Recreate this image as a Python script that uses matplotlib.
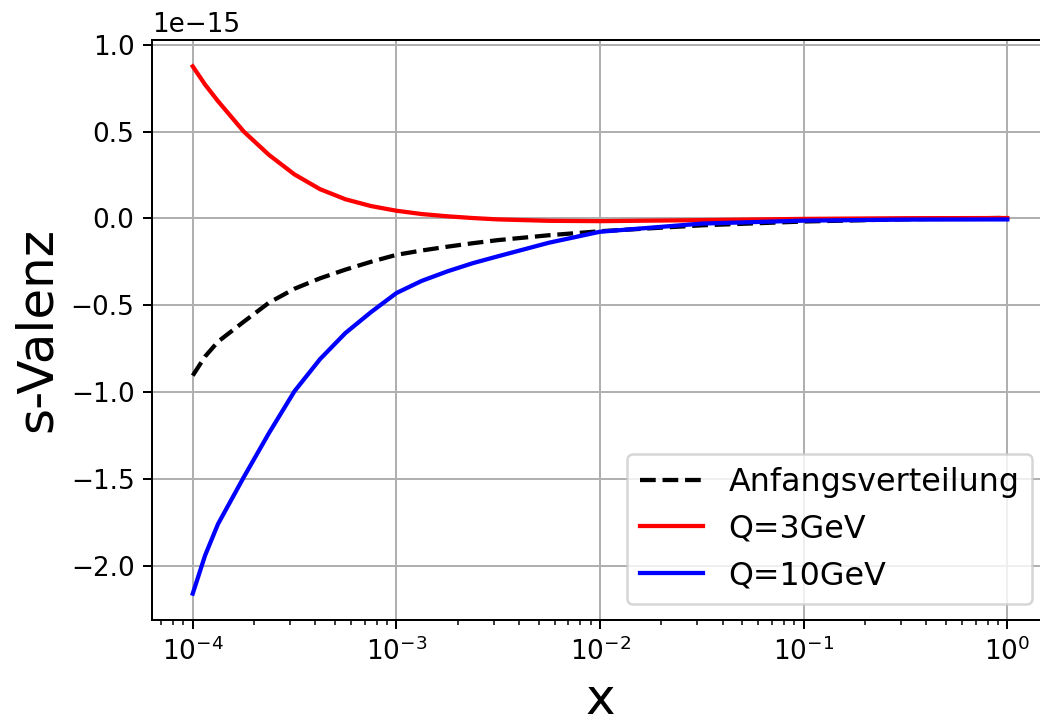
import numpy as np
import matplotlib
matplotlib.use('Agg')
import matplotlib.pyplot as plt

# x-Werte (log), Kurven in Einheiten von 1e-15
x = [1e-4, 1.15e-4, 1.33e-4, 1.78e-4, 2.37e-4, 3.16e-4, 4.22e-4, 5.62e-4, 7.5e-4, 1e-3,
     1.33e-3, 1.78e-3, 2.37e-3, 3.16e-3, 5.62e-3, 1e-2, 3.16e-2, 1e-1, 3.16e-1, 1.0]
anfang = [-0.905, -0.795, -0.71, -0.595, -0.485, -0.405, -0.345, -0.295, -0.25, -0.21,
          -0.185, -0.163, -0.143, -0.125, -0.097, -0.074, -0.040, -0.018, -0.005, 0.003]
q3 = [0.875, 0.77, 0.675, 0.50, 0.365, 0.253, 0.168, 0.11, 0.071, 0.044,
      0.025, 0.012, 0.002, -0.006, -0.014, -0.016, -0.010, -0.003, 0.001, 0.002]
q10 = [-2.16, -1.94, -1.76, -1.49, -1.235, -0.995, -0.81, -0.66, -0.54, -0.43,
       -0.36, -0.305, -0.258, -0.218, -0.14, -0.077, -0.030, -0.013, -0.007, -0.006]

scale = 1e-15

plt.rcParams['xtick.labelsize'] = 10.5
plt.rcParams['ytick.labelsize'] = 10.5
plt.rcParams['lines.linewidth'] = 1.7

fig = plt.figure(figsize=(1040/180, 718/180), dpi=180)
ax = fig.add_axes([152/1040, 1 - 620/718, 896/1040, 580/718])

ax.plot(x, np.array(anfang) * scale, 'k--', label='Anfangsverteilung')
ax.plot(x, np.array(q3) * scale, 'r-', label='Q=3GeV')
ax.plot(x, np.array(q10) * scale, 'b-', label='Q=10GeV')

ax.set_xscale('log')
ax.set_xlabel('x', fontsize=20)
ax.set_ylabel('s-Valenz', fontsize=20)
ax.yaxis.get_offset_text().set_fontsize(10.5)
ax.grid(True)
ax.legend(loc='lower right', fontsize=12.7)

fig.savefig('out.png', dpi=180)
